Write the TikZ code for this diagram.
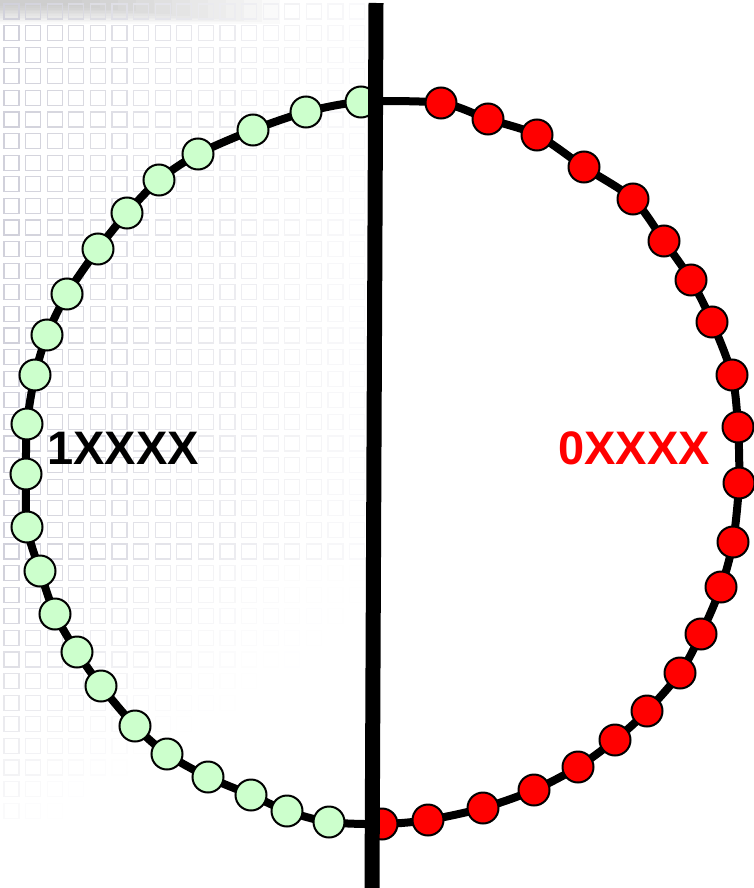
\documentclass[tikz,border=0pt]{standalone}
\usepackage{fontspec}
\setmainfont{Liberation Sans}
\definecolor{dotgreen}{RGB}{204,255,204}
\definecolor{dotred}{RGB}{255,0,0}
\definecolor{gridc}{rgb}{0.50,0.50,0.60}
\begin{document}
\begin{tikzpicture}[x=1pt,y=-1pt,
  gdot/.style={circle,draw=black,line width=2pt,fill=dotgreen,minimum size=31pt,inner sep=0pt},
  rdot/.style={circle,draw=black,line width=2pt,fill=dotred,minimum size=31pt,inner sep=0pt},
  ring/.style={draw=black,line width=8pt},
  divider/.style={draw=black,line width=15pt},
  lbl/.style={font=\bfseries\fontsize{47}{47}\selectfont,inner sep=0pt,anchor=base west}]
\useasboundingbox (0,0) rectangle (753,888);
\fill[white] (0,0) rectangle (753,888);
% top-left shadow
\foreach \i in {0,...,11}{
  \fill[gray,opacity=0.035] (0,0) rectangle ({280-\i*18},{24-\i*1.6});
}
% faint background grid
\foreach \c in {0,...,16}{
  \foreach \r in {0,...,37}{
    \pgfmathsetmacro\fx{max(0,1-(3+21.6*\c)/420)^1.2}
    \pgfmathsetmacro\fy{(21.6*\r<560) ? 1 : max(0,(830-21.6*\r-0.6*21.6*\c)/270)}
    \pgfmathsetmacro\k{36*\fx*\fy}
    \draw[draw=gridc!\k,line width=1.1pt] ({4+21.6*\c},{4+21.6*\r}) rectangle ++(15,15);
  }
}
% positions
\coordinate (p1) at (361,102);
\coordinate (p2) at (306,112);
\coordinate (p3) at (253,130);
\coordinate (p4) at (198,154);
\coordinate (p5) at (159,180);
\coordinate (p6) at (127,213);
\coordinate (p7) at (98,249);
\coordinate (p8) at (67,294);
\coordinate (p9) at (47,335);
\coordinate (p10) at (35,375);
\coordinate (p11) at (27,424);
\coordinate (p12) at (26,474);
\coordinate (p13) at (27,527);
\coordinate (p14) at (40,571);
\coordinate (p15) at (55,614);
\coordinate (p16) at (77,652);
\coordinate (p17) at (101,686);
\coordinate (p18) at (135,726);
\coordinate (p19) at (167,754);
\coordinate (p20) at (208,777);
\coordinate (p21) at (251,795);
\coordinate (p22) at (287,811);
\coordinate (p23) at (329,822);
\coordinate (q1) at (382,824);
\coordinate (q2) at (428,820);
\coordinate (q3) at (483,808);
\coordinate (q4) at (534,790);
\coordinate (q5) at (578,767);
\coordinate (q6) at (615,740);
\coordinate (q7) at (647,711);
\coordinate (q8) at (680,673);
\coordinate (q9) at (701,634);
\coordinate (q10) at (721,587);
\coordinate (q11) at (733,542);
\coordinate (q12) at (739,483);
\coordinate (q13) at (738,427);
\coordinate (q14) at (732,375);
\coordinate (q15) at (712,322);
\coordinate (q16) at (691,280);
\coordinate (q17) at (664,241);
\coordinate (q18) at (633,199);
\coordinate (q19) at (584,167);
\coordinate (q20) at (537,135);
\coordinate (q21) at (488,119);
\coordinate (q22) at (441,103);
% ring
\draw[ring] plot[smooth cycle,tension=0.5] coordinates {(p1) (p2) (p3) (p4) (p5) (p6) (p7) (p8) (p9) (p10) (p11) (p12) (p13) (p14) (p15) (p16) (p17) (p18) (p19) (p20) (p21) (p22) (p23) (q1) (q2) (q3) (q4) (q5) (q6) (q7) (q8) (q9) (q10) (q11) (q12) (q13) (q14) (q15) (q16) (q17) (q18) (q19) (q20) (q21) (q22)};
% dots
\foreach \i in {1,...,23}{ \node[gdot] (g\i) at (p\i) {}; }
\foreach \i in {1,...,22}{ \node[rdot] (r\i) at (q\i) {}; }
% labels
\node[lbl,text=black] (one) at (47,464) {1XXXX};
\node[lbl,text=dotred] (zero) at (558,464) {0XXXX};
% divider
\coordinate (dtop) at (376,3);
\coordinate (dbot) at (372,888);
\draw[divider] (dtop) -- (dbot);
\end{tikzpicture}
\end{document}
